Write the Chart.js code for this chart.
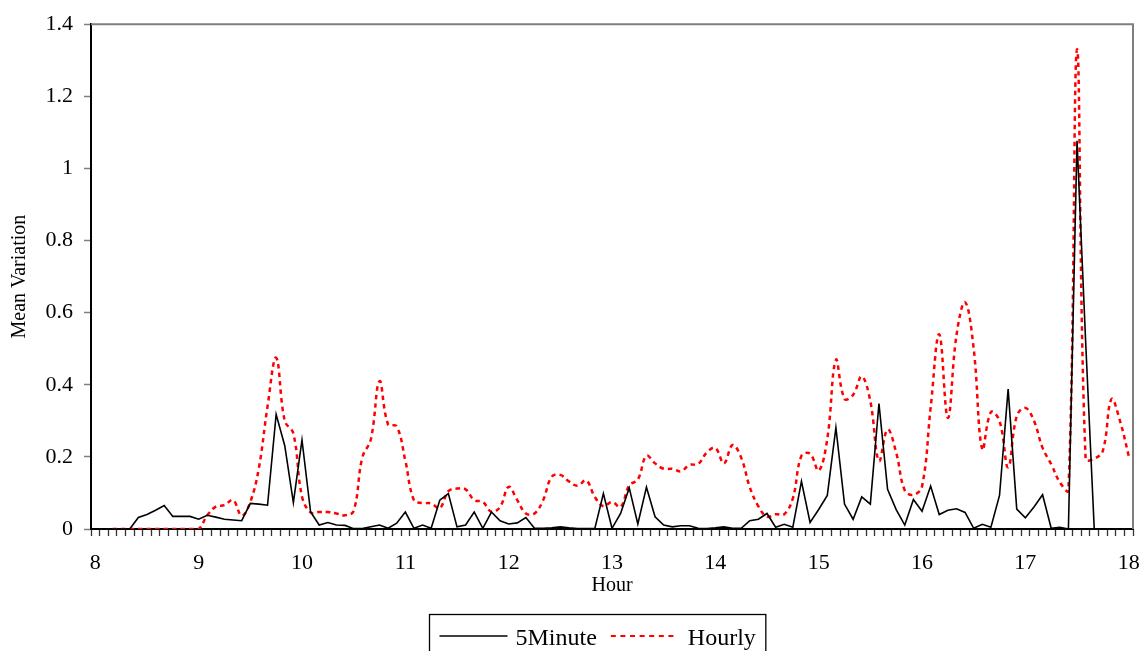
<!DOCTYPE html>
<html>
<head>
<meta charset="utf-8">
<title>Mean Variation by Hour</title>
<script src="https://cdn.jsdelivr.net/npm/chart.js@4.4.1/dist/chart.umd.min.js"></script>
<style>
    html, body { margin: 0; padding: 0; background: #fff; }
    #wrap { position: relative; width: 1146px; height: 651px; }
</style>
</head>
<body>
<div id="wrap"><canvas id="chart"></canvas></div>
<script>
// Hour labels, one every 12 five-minute slots (8:00 ... 18:00 = 121 slots)
const hourLabels = ['8', '9', '10', '11', '12', '13', '14', '15', '16', '17', '18'];
const slotsPerHour = 12;

// 5Minute series, one row per hour
const fiveMinute = [
    null, null, 0, 0, 0, 0.032, 0.040, 0.052, 0.065, 0.035, 0.035, 0.035,
    0.027, 0.038, 0.033, 0.027, 0.025, 0.023, 0.071, 0.069, 0.066, 0.318, 0.231, 0.073,
    0.247, 0.047, 0.011, 0.018, 0.011, 0.010, 0.001, 0.001, 0.006, 0.011, 0.002, 0.016,
    0.047, 0.002, 0.011, 0.002, 0.080, 0.098, 0.006, 0.011, 0.047, 0.002, 0.047, 0.023,
    0.014, 0.017, 0.032, 0.002, 0.002, 0.003, 0.006, 0.003, 0.001, 0.001, 0.001, 0.098,
    0.002, 0.043, 0.114, 0.014, 0.116, 0.034, 0.011, 0.006, 0.009, 0.009, 0.002, 0.001,
    0.003, 0.006, 0.002, 0.002, 0.023, 0.027, 0.043, 0.005, 0.013, 0.005, 0.132, 0.018,
    0.054, 0.093, 0.281, 0.069, 0.027, 0.089, 0.069, 0.348, 0.110, 0.054, 0.011, 0.082,
    0.049, 0.119, 0.040, 0.052, 0.056, 0.046, 0.002, 0.013, 0.005, 0.093, 0.388, 0.055,
    0.031, 0.061, 0.095, 0.002, 0.005, 0, 1.077, 0.52, 0, 0, 0, 0,
    0
];

// Hourly series, one row per hour
const hourly = [
    null, null, 0, 0, 0, 0, 0, 0, 0, 0, 0, 0,
    0, 0.038, 0.062, 0.066, 0.080, 0.037, 0.075, 0.17, 0.34, 0.475, 0.30, 0.265,
    0.09, 0.046, 0.047, 0.047, 0.043, 0.038, 0.05, 0.198, 0.249, 0.41, 0.29, 0.285,
    0.19, 0.08, 0.072, 0.071, 0.058, 0.105, 0.112, 0.110, 0.080, 0.075, 0.048, 0.061,
    0.117, 0.080, 0.043, 0.043, 0.080, 0.145, 0.150, 0.132, 0.120, 0.135, 0.089, 0.063,
    0.075, 0.061, 0.121, 0.137, 0.203, 0.182, 0.167, 0.167, 0.160, 0.178, 0.180, 0.212,
    0.225, 0.182, 0.233, 0.198, 0.116, 0.063, 0.034, 0.041, 0.041, 0.085, 0.203, 0.209,
    0.162, 0.25, 0.469, 0.361, 0.372, 0.423, 0.354, 0.189, 0.276, 0.212, 0.107, 0.095,
    0.118, 0.336, 0.54, 0.308, 0.537, 0.629, 0.50, 0.221, 0.324, 0.30, 0.171, 0.313,
    0.336, 0.30, 0.225, 0.18, 0.13, 0.107, 1.33, 0.194, 0.195, 0.217, 0.36, 0.299,
    0.203
];

// x categories: hour label on the full hour, blank elsewhere
const categories = fiveMinute.map((v, i) => i % slotsPerHour === 0 ? hourLabels[i / slotsPerHour] : '');

const serif = 'Liberation Serif';
const redDash = [4.5, 4];

// Gray frame on top and right of the plot area
const frame = {
    id: 'frame',
    afterDatasetsDraw(chart) {
        const { ctx, chartArea: a } = chart;
        ctx.save();
        ctx.strokeStyle = '#7f7f7f';
        ctx.lineWidth = 2;
        ctx.beginPath();
        ctx.moveTo(a.left, a.top);
        ctx.lineTo(a.right, a.top);
        ctx.lineTo(a.right, a.bottom);
        ctx.stroke();
        ctx.restore();
    }
};

// Boxed legend under the axis title
const boxLegend = {
    id: 'boxLegend',
    afterDraw(chart) {
        const ctx = chart.ctx;
        const sets = chart.data.datasets;
        ctx.save();
        ctx.font = '24px "' + serif + '"';
        const w0 = ctx.measureText(sets[0].label).width;
        const w1 = ctx.measureText(sets[1].label).width;
        const total = 10 + 68 + 8 + w0 + 14 + 67 + 10 + w1 + 10;
        const left = Math.round(597 - total / 2) + 0.5;
        const top = 614.5;
        const lineY = 636;
        const baseY = 645;

        ctx.strokeStyle = '#000';
        ctx.lineWidth = 1.3;
        ctx.strokeRect(left, top, total, 60);

        let x = left + 10;
        ctx.lineWidth = 1.6;
        ctx.beginPath();
        ctx.moveTo(x, lineY);
        ctx.lineTo(x + 68, lineY);
        ctx.stroke();
        x += 68 + 8;
        ctx.fillStyle = '#000';
        ctx.textBaseline = 'alphabetic';
        ctx.fillText(sets[0].label, x, baseY);
        x += w0 + 14;

        ctx.strokeStyle = '#ff0000';
        ctx.lineWidth = 2.2;
        ctx.setLineDash([5, 4.6]);
        ctx.beginPath();
        ctx.moveTo(x, lineY);
        ctx.lineTo(x + 67, lineY);
        ctx.stroke();
        ctx.setLineDash([]);
        x += 67 + 10;
        ctx.fillText(sets[1].label, x, baseY);
        ctx.restore();
    }
};

new Chart(document.getElementById('chart').getContext('2d'), {
    type: 'line',
    data: {
        labels: categories,
        datasets: [{
            label: '5Minute',
            data: fiveMinute,
            borderColor: '#000000',
            backgroundColor: '#000000',
            borderWidth: 1.6,
            pointRadius: 0,
            tension: 0,
            fill: false
        }, {
            label: 'Hourly',
            data: hourly,
            borderColor: '#ff0000',
            backgroundColor: '#ff0000',
            borderWidth: 2.5,
            borderDash: redDash,
            pointRadius: 0,
            tension: 0.4,
            fill: false
        }]
    },
    options: {
        responsive: true,
        maintainAspectRatio: false,
        animation: false,
        layout: {
            padding: { top: 20, right: 13, bottom: 45, left: 0 }
        },
        plugins: {
            legend: { display: false },
            tooltip: { enabled: false }
        },
        scales: {
            x: {
                type: 'category',
                offset: true,
                afterFit(scale) {
                    scale.height = 77;
                    // keep the plot edge where the layout padding puts it
                    scale.paddingLeft = 0;
                    scale.paddingRight = 0;
                },
                border: { display: true, color: '#000', width: 2 },
                grid: {
                    offset: true,
                    drawOnChartArea: false,
                    drawTicks: true,
                    tickLength: 7,
                    tickWidth: 1.3,
                    tickColor: '#333'
                },
                ticks: {
                    autoSkip: false,
                    maxRotation: 0,
                    minRotation: 0,
                    padding: 14,
                    color: '#000',
                    font: { family: serif, size: 22 }
                },
                title: {
                    display: true,
                    text: 'Hour',
                    color: '#000',
                    padding: { top: 0, bottom: 8 },
                    font: { family: serif, size: 20 }
                }
            },
            y: {
                min: 0,
                max: 1.4,
                afterFit(scale) { scale.width = 91; },
                border: { display: true, color: '#000', width: 2 },
                grid: {
                    drawOnChartArea: false,
                    drawTicks: true,
                    tickLength: 7,
                    tickWidth: 1.5,
                    tickColor: '#7f7f7f'
                },
                ticks: {
                    stepSize: 0.2,
                    padding: 11,
                    color: '#000',
                    font: { family: serif, size: 22 },
                    callback: function(value) {
                        return String(Number(value.toFixed(1)));
                    }
                },
                title: {
                    display: true,
                    text: 'Mean Variation',
                    color: '#000',
                    padding: { top: 8, bottom: 0 },
                    font: { family: serif, size: 20 }
                }
            }
        }
    },
    plugins: [frame, boxLegend]
});
</script>
</body>
</html>
